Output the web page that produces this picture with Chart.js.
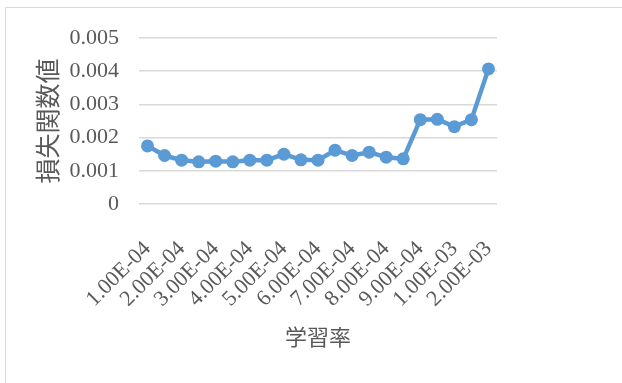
<!DOCTYPE html>
<html>
<head>
<meta charset="utf-8">
<script src="https://cdn.jsdelivr.net/npm/chart.js@4/dist/chart.umd.min.js"></script>
<style>
  body { margin: 0; background: #fff; }
  #frame { position: absolute; left: 5px; top: 7px; width: 700px; height: 500px; border: 1px solid #d9d9d9; }
  #wrap { position: absolute; left: 0; top: 0; width: 622px; height: 383px; }
</style>
</head>
<body>
<div id="frame"></div>
<div id="wrap"><canvas id="lossChart" width="622" height="383"></canvas></div>
<script>
// Learning rates tried (labels shown on every other point)
const learningRates = [
  '1.00E-04', '1.50E-04', '2.00E-04', '2.50E-04', '3.00E-04', '3.50E-04', '4.00E-04',
  '4.50E-04', '5.00E-04', '5.50E-04', '6.00E-04', '6.50E-04', '7.00E-04', '7.50E-04',
  '8.00E-04', '8.50E-04', '9.00E-04', '9.50E-04', '1.00E-03', '1.50E-03', '2.00E-03'
];

// Loss value for each learning rate
const lossValues = [
  0.00175, 0.00146, 0.00132, 0.00127, 0.00129, 0.00127, 0.00132,
  0.00132, 0.00150, 0.00133, 0.00132, 0.00162, 0.00146, 0.00156,
  0.00141, 0.00136, 0.00254, 0.00255, 0.00233, 0.00254, 0.00407
];

const yTicks = [0, 0.001, 0.002, 0.003, 0.004, 0.005];

const textColor = '#595959';
const gridColor = '#d9d9d9';
const lineColor = '#5b9bd5';

const ctx = document.getElementById('lossChart').getContext('2d');

new Chart(ctx, {
  type: 'line',
  data: {
    labels: learningRates,
    datasets: [{
      data: lossValues,
      borderColor: lineColor,
      backgroundColor: lineColor,
      borderWidth: 4.5,
      pointRadius: 6.5,
      pointBorderWidth: 0,
      tension: 0
    }]
  },
  options: {
    responsive: false,
    animation: false,
    layout: { padding: { left: 30, right: 125, top: 38, bottom: 30 } },
    plugins: {
      legend: { display: false },
      tooltip: { enabled: false }
    },
    scales: {
      x: {
        offset: true,
        grid: { display: false, drawTicks: false },
        border: { display: false },
        ticks: {
          autoSkip: false,
          minRotation: 45,
          maxRotation: 45,
          padding: 32,
          color: textColor,
          font: { family: 'Liberation Serif', size: 22 },
          callback: (val, i) => (i % 2 === 0 ? learningRates[i] : '')
        },
        title: {
          display: true,
          text: '学習率',
          color: textColor,
          padding: { top: 0, bottom: 3 },
          font: { family: 'Noto Sans CJK JP', size: 22 }
        },
        afterFit: scale => { scale.height = 149; }
      },
      y: {
        min: 0,
        max: 0.005,
        afterBuildTicks: scale => { scale.ticks = yTicks.map(v => ({ value: v })); },
        grid: { color: gridColor, lineWidth: 1.5, drawTicks: false },
        border: { display: false },
        ticks: {
          padding: 20,
          color: textColor,
          font: { family: 'Liberation Serif', size: 22 },
          callback: v => (v === 0 ? '0' : v.toFixed(3))
        },
        title: {
          display: true,
          text: '損失関数値',
          color: textColor,
          padding: { top: 2, bottom: 0 },
          font: { family: 'Noto Sans CJK JP', size: 25 }
        },
        afterFit: scale => { scale.width = 109; }
      }
    }
  }
});
</script>
</body>
</html>
